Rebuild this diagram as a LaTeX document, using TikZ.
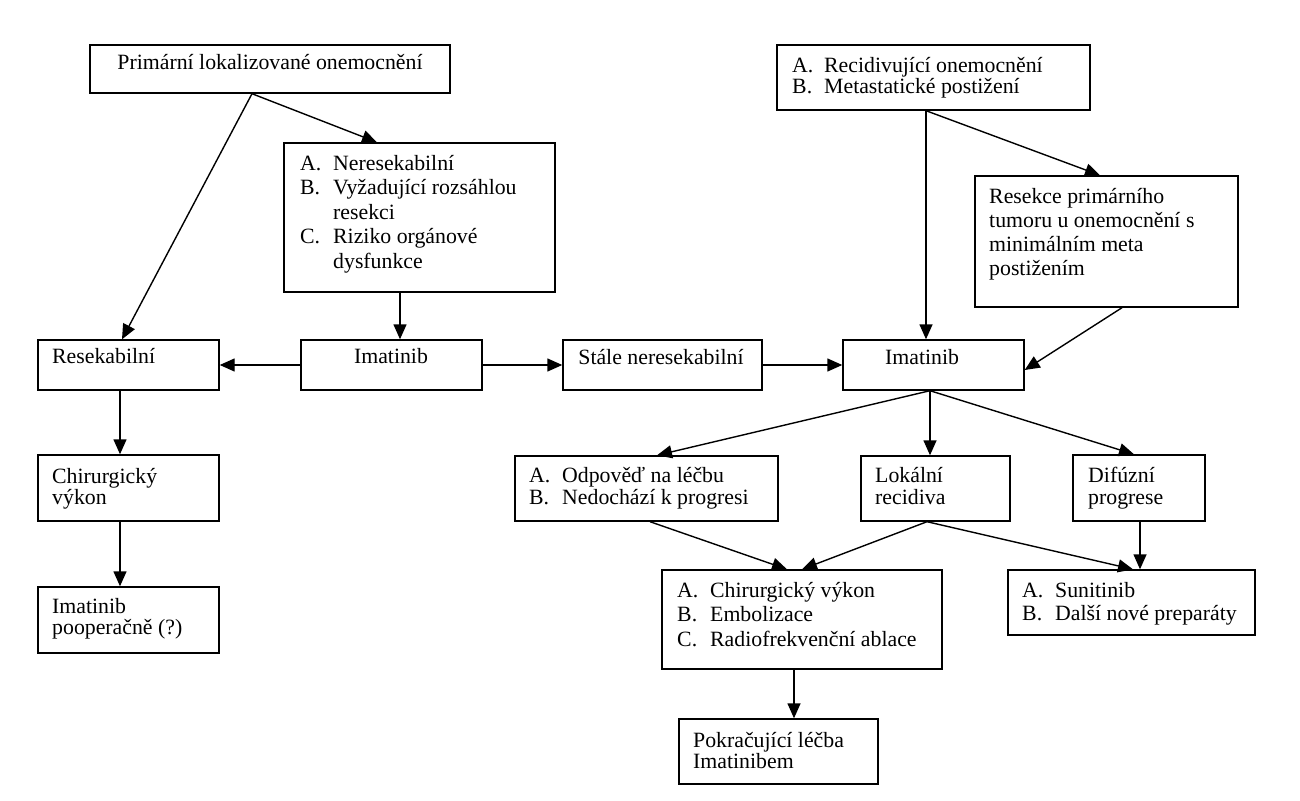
\documentclass[tikz,border=0pt]{standalone}
\usepackage{fontspec}
\setmainfont{Liberation Serif}
\usetikzlibrary{arrows.meta,calc}
% text block: [anchor]{name}{x}{baseline y}{line spacing}{rows}
\newcommand\tx[6][base west]{\node[anchor=#1,inner sep=0pt,font=\fontsize{21.8}{#5}\selectfont] (#2) at (#3,#4) {\begin{tabular}[t]{@{}l@{}}#6\end{tabular}};}
\newcommand\ls[6][33pt]{\node[anchor=base west,inner sep=0pt,font=\fontsize{21.8}{#5}\selectfont] (#2) at (#3,#4) {\begin{tabular}[t]{@{}p{#1}@{}l@{}}#6\end{tabular}};}
\begin{document}
\begin{tikzpicture}[x=1pt,y=-1pt,
  box/.style={draw,line width=1.4pt,inner sep=0pt},
  arr/.style={line width=1.4pt,-{Triangle[length=15pt,width=13pt]}}]
\useasboundingbox[fill=white] (0,0) rectangle (1300,800);
% boxes
\node[box,minimum width=360pt,minimum height=48pt] (b1) at (270,69) {};
\node[box,minimum width=271pt,minimum height=149pt] (b2) at (419.5,217.5) {};
\node[box,minimum width=313pt,minimum height=65pt] (b3) at (933.5,77.5) {};
\node[box,minimum width=263pt,minimum height=131pt] (b4) at (1106.5,241.5) {};
\node[box,minimum width=181pt,minimum height=50pt] (res) at (128.5,365) {};
\node[box,minimum width=181pt,minimum height=50pt] (im1) at (391.5,365) {};
\node[box,minimum width=199pt,minimum height=50pt] (st) at (662.5,365) {};
\node[box,minimum width=181pt,minimum height=50pt] (im2) at (933.5,365) {};
\node[box,minimum width=181pt,minimum height=66pt] (chl) at (128.5,488) {};
\node[box,minimum width=181pt,minimum height=66pt] (ipo) at (128.5,620) {};
\node[box,minimum width=263pt,minimum height=65pt] (odp) at (646.5,488.5) {};
\node[box,minimum width=149pt,minimum height=65pt] (lok) at (935.5,488.5) {};
\node[box,minimum width=132pt,minimum height=66pt] (dif) at (1139,488) {};
\node[box,minimum width=280pt,minimum height=99pt] (chr) at (802,619.5) {};
\node[box,minimum width=247pt,minimum height=65pt] (sun) at (1131.5,602.5) {};
\node[box,minimum width=199pt,minimum height=65pt] (pok) at (778.5,751.5) {};
% texts
\tx[base]{t1}{270}{70}{24}{Primární lokalizované onemocnění}
\ls{t2}{300}{170}{24.5}{A. & Neresekabilní\\ B. & Vyžadující rozsáhlou\\ & resekci\\ C. & Riziko orgánové\\ & dysfunkce}
\ls[32pt]{t3}{792}{72}{21.5}{A. & Recidivující onemocnění\\ B. & Metastatické postižení}
\tx{t4}{989}{203}{24}{Resekce primárního\\ tumoru u onemocnění s\\ minimálním meta\\ postižením}
\tx{t5}{52}{363}{24}{Resekabilní}
\tx[base]{t6}{391}{363}{24}{Imatinib}
\tx[base]{t7}{661}{364}{24}{Stále neresekabilní}
\tx{t8}{885}{364}{24}{Imatinib}
\tx{t9}{52}{483}{21}{Chirurgický\\ výkon}
\tx{t10}{52}{613}{21}{Imatinib\\ pooperačně (?)}
\ls{t11}{529}{482}{22}{A. & Odpověď na léčbu\\ B. & Nedochází k progresi}
\tx{t12}{875}{482}{22}{Lokální\\ recidiva}
\tx{t13}{1088}{482}{22}{Difúzní\\ progrese}
\ls{t14}{677}{597}{24.5}{A. & Chirurgický výkon\\ B. & Embolizace\\ C. & Radiofrekvenční ablace}
\ls{t15}{1022}{597}{23}{A. & Sunitinib\\ B. & Další nové preparáty}
\tx{t16}{693}{747}{21}{Pokračující léčba\\ Imatinibem}
% connectors
\draw[arr] ([xshift=-18pt]b1.south) -- ([xshift=-6.5pt]res.north);
\draw[arr] ([xshift=-18pt]b1.south) -- ([xshift=-42.5pt]b2.north);
\draw[arr] ([xshift=-19.5pt]b2.south) -- ([xshift=-19.5pt]b2.south |- im1.north);
\draw[arr] (im1.west) -- (res.east);
\draw[arr] (im1.east) -- (st.west);
\draw[arr] (st.east) -- (im2.west);
\draw[arr] ([xshift=-7.5pt]b3.south) -- ([xshift=-7.5pt]b3.south |- im2.north);
\draw[arr] ([xshift=-7.5pt]b3.south) -- ([xshift=-6.5pt]b4.north);
\draw[arr] ([xshift=15.5pt]b4.south) -- ([yshift=-5pt]im2.east);
\draw[arr] ([xshift=-8.5pt]res.south) -- ([xshift=-8.5pt]chl.north);
\draw[arr] ([xshift=-8.5pt]chl.south) -- ([xshift=-8.5pt]ipo.north);
\draw[arr] ([xshift=-3.5pt]im2.south) -- ([xshift=10.5pt]odp.north);
\draw[arr] ([xshift=-3.5pt]im2.south) -- ([xshift=-3.5pt]im2.south |- lok.north);
\draw[arr] ([xshift=-3.5pt]im2.south) -- ([xshift=-5pt]dif.north);
\draw[arr] ([xshift=3.5pt]odp.south) -- ([xshift=-15pt]chr.north);
\draw[arr] ([xshift=-8.5pt]lok.south) -- (chr.north);
\draw[arr] ([xshift=-8.5pt]lok.south) -- ([xshift=1.5pt]sun.north);
\draw[arr] ([xshift=1pt]dif.south) -- ([xshift=1pt]dif.south |- sun.north);
\draw[arr] ([xshift=-8pt]chr.south) -- ([xshift=-8pt]chr.south |- pok.north);
\end{tikzpicture}
\end{document}
